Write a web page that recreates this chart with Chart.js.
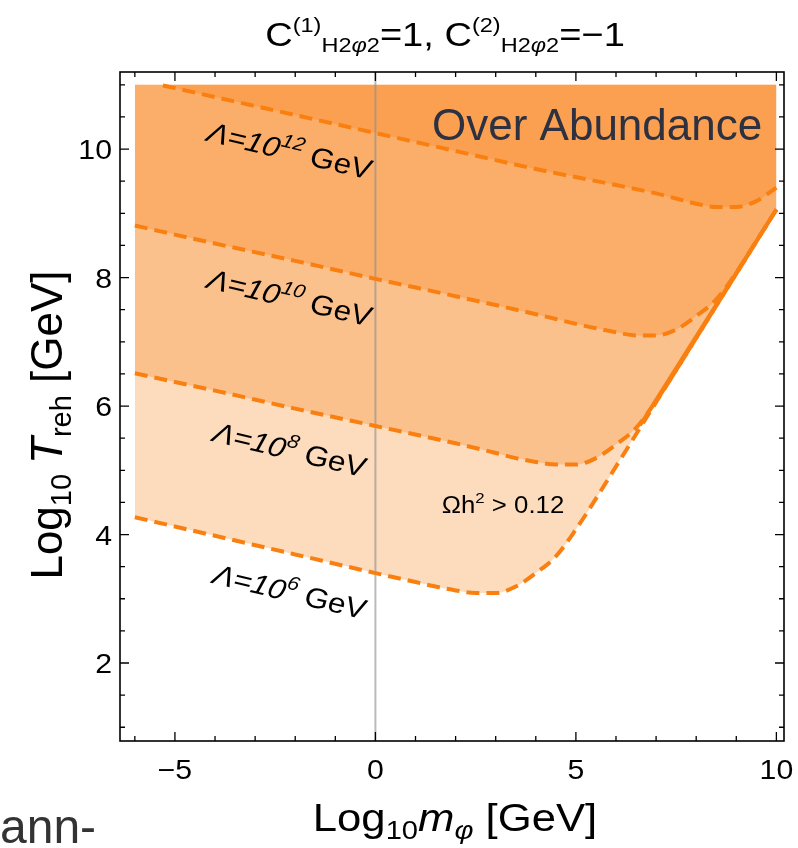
<!DOCTYPE html>
<html>
<head>
<meta charset="utf-8">
<script src="https://cdn.jsdelivr.net/npm/chart.js@4.4.1/dist/chart.umd.min.js"></script>
<style>
  html, body { margin: 0; padding: 0; background: #fff; }
  #relicChart { display: block; }
</style>
</head>
<body>
<canvas id="relicChart" width="798" height="848"></canvas>
<script>
// Omega h^2 = 0.12 contours in the (Log10 m_phi, Log10 T_reh) plane, one per cutoff scale
const mass6 = [-6, -4, -2, 0, 1, 1.5, 2, 2.5, 3, 3.5, 4, 4.5, 5, 5.5, 6, 7, 8, 9, 10];
const treh6 = [4.27, 3.98, 3.69, 3.40, 3.26, 3.19, 3.13, 3.09, 3.09, 3.19, 3.40, 3.66, 4.08, 4.56, 5.06, 6.06, 7.06, 8.06, 9.06];

const mass8 = [-6, -4, -2, 0, 2, 3, 3.5, 4, 4.5, 5, 5.5, 6, 6.5, 7, 7.5, 8, 9, 10];
const treh8 = [6.51, 6.24, 5.96, 5.69, 5.42, 5.27, 5.19, 5.13, 5.09, 5.09, 5.19, 5.40, 5.66, 6.08, 6.56, 7.06, 8.06, 9.06];

const mass10 = [-6, -4, -2, 0, 2, 4, 5, 5.5, 6, 6.5, 7, 7.5, 8, 8.5, 9, 9.5, 10];
const treh10 = [8.81, 8.53, 8.26, 7.98, 7.71, 7.43, 7.28, 7.21, 7.15, 7.10, 7.10, 7.19, 7.40, 7.66, 8.08, 8.57, 9.06];

const mass12 = [-5.3, -4, -2, 0, 2, 4, 6, 7, 7.5, 8, 8.5, 9, 9.5, 10];
const treh12 = [10.99, 10.81, 10.53, 10.25, 9.97, 9.69, 9.44, 9.31, 9.23, 9.15, 9.10, 9.10, 9.19, 9.40];

// stretch where the lower contours run together along the high-mass edge
const sharedMass = [6.6, 10];
const sharedTreh = [5.70, 9.06];

// upper edge of the scanned region
const edgeMass = [-6, 10];
const edgeTreh = [11, 11];

const cutoffExponents = ["6", "8", "10", "12"];

const xMajorTicks = [-5, 0, 5, 10];
const xMinorTicks = [-6, -4, -3, -2, -1, 1, 2, 3, 4, 6, 7, 8, 9];
const yMajorTicks = [2, 4, 6, 8, 10];
const yMinorTicks = [1, 1.5, 2.5, 3, 3.5, 4.5, 5, 5.5, 6.5, 7, 7.5, 8.5, 9, 9.5, 10.5, 11];

const FONT = '"Liberation Sans", Arial, sans-serif';
const STRETCH = 1.12;
const ORANGE = "#f98010";
const BAND = "rgba(248, 122, 10, 0.27)";

function toPoints(xs, ys) {
    return xs.map((x, i) => ({ x: x, y: ys[i] }));
}

function fmt(v) {
    return v < 0 ? "\u2212" + Math.abs(v) : String(v);
}

// draws a row of text runs (for sub/superscripts), optionally stretched and rotated
function drawRuns(ctx, runs, x, y, opt) {
    opt = opt || {};
    const sx = opt.sx || 1;
    const align = opt.align || "left";
    let total = 0;
    runs.forEach(r => {
        ctx.font = (r.italic ? "italic " : "") + r.size + "px " + FONT;
        r.w = ctx.measureText(r.text).width;
        total += r.w;
    });
    ctx.save();
    ctx.translate(x, y);
    ctx.scale(sx, 1);
    ctx.rotate(opt.angle || 0);
    ctx.textAlign = "left";
    ctx.textBaseline = "alphabetic";
    ctx.fillStyle = opt.color || "#000";
    let cx = align === "center" ? -total / 2 : align === "right" ? -total : 0;
    runs.forEach(r => {
        ctx.font = (r.italic ? "italic " : "") + r.size + "px " + FONT;
        ctx.fillText(r.text, cx, r.dy || 0);
        cx += r.w;
    });
    ctx.restore();
}

const zeroLine = {
    id: "zeroLine",
    beforeDatasetsDraw(chart) {
        const { ctx, chartArea, scales } = chart;
        const px = scales.x.getPixelForValue(0);
        ctx.save();
        ctx.strokeStyle = "rgba(140, 140, 140, 0.6)";
        ctx.lineWidth = 2;
        ctx.beginPath();
        ctx.moveTo(px, chartArea.top);
        ctx.lineTo(px, chartArea.bottom);
        ctx.stroke();
        ctx.restore();
    }
};

const frameAndText = {
    id: "frameAndText",
    afterDraw(chart) {
        const { ctx, chartArea, scales } = chart;
        const { left, right, top, bottom } = chartArea;
        const xs = scales.x, ys = scales.y;

        ctx.save();
        ctx.strokeStyle = "#000";
        ctx.lineWidth = 1.6;
        ctx.strokeRect(left, top, right - left, bottom - top);

        ctx.lineWidth = 1.3;
        ctx.beginPath();
        const xTick = (v, len) => {
            const p = xs.getPixelForValue(v);
            ctx.moveTo(p, bottom); ctx.lineTo(p, bottom - len);
            ctx.moveTo(p, top); ctx.lineTo(p, top + len);
        };
        const yTick = (v, len) => {
            const p = ys.getPixelForValue(v);
            ctx.moveTo(left, p); ctx.lineTo(left + len, p);
            ctx.moveTo(right, p); ctx.lineTo(right - len, p);
        };
        xMajorTicks.forEach(v => xTick(v, 9));
        xMinorTicks.forEach(v => xTick(v, 5));
        yMajorTicks.forEach(v => yTick(v, 9));
        yMinorTicks.forEach(v => yTick(v, 5));
        ctx.stroke();
        ctx.restore();

        // tick labels
        xs.ticks.forEach(t => {
            drawRuns(ctx, [{ text: fmt(t.value), size: 27 }],
                xs.getPixelForValue(t.value), bottom + 38, { sx: STRETCH, align: "center" });
        });
        ys.ticks.forEach(t => {
            drawRuns(ctx, [{ text: fmt(t.value), size: 27 }],
                left - 8, ys.getPixelForValue(t.value) + 10, { sx: STRETCH, align: "right" });
        });

        // title
        drawRuns(ctx, [
            { text: "C", size: 34 },
            { text: "(1)", size: 21, dy: -14 },
            { text: "H2", size: 21, dy: 6 },
            { text: "\u03c6", size: 21, dy: 6, italic: true },
            { text: "2", size: 21, dy: 6 },
            { text: "=1, ", size: 34 },
            { text: "C", size: 34 },
            { text: "(2)", size: 21, dy: -14 },
            { text: "H2", size: 21, dy: 6 },
            { text: "\u03c6", size: 21, dy: 6, italic: true },
            { text: "2", size: 21, dy: 6 },
            { text: "=\u22121", size: 34 }
        ], 445, 46, { sx: STRETCH, align: "center" });

        // axis titles
        drawRuns(ctx, [
            { text: "Log", size: 39 },
            { text: "10", size: 26, dy: 8 },
            { text: "m", size: 39, italic: true },
            { text: "\u03c6", size: 26, dy: 8, italic: true },
            { text: " [GeV]", size: 39 }
        ], 455, 831, { sx: STRETCH, align: "center" });

        drawRuns(ctx, [
            { text: "Log", size: 44 },
            { text: "10", size: 29, dy: 9 },
            { text: " ", size: 36 },
            { text: "T", size: 44, italic: true },
            { text: "reh", size: 29, dy: 9 },
            { text: " [GeV]", size: 44 }
        ], 62, 425, { sx: 1, align: "center", angle: -Math.PI / 2 });

        // cutoff labels along the contours
        const tilt = Math.atan(Math.tan(13.5 * Math.PI / 180) * STRETCH);
        const labelY = [592, 450, 298, 151];
        cutoffExponents.forEach((e, i) => {
            drawRuns(ctx, [
                { text: "\u039b=10", size: 28, italic: true },
                { text: e, size: 19, dy: -12, italic: true },
                { text: " GeV", size: 28 }
            ], 287, labelY[i] + 9, { sx: STRETCH, align: "center", angle: tilt });
        });

        drawRuns(ctx, [
            { text: "\u03a9h", size: 23 },
            { text: "2", size: 15, dy: -10 },
            { text: " > 0.12", size: 23 }
        ], 503, 513, { sx: STRETCH, align: "center" });

        drawRuns(ctx, [{ text: "Over Abundance", size: 44 }], 432, 140, { color: "#2e3140" });

        drawRuns(ctx, [{ text: "ann-", size: 48 }], 0, 843, { color: "#333333" });
    }
};

function contour(xs, ys) {
    return {
        data: toPoints(xs, ys),
        borderColor: ORANGE,
        borderWidth: 4,
        borderDash: [13, 7],
        backgroundColor: BAND,
        fill: 0,
        cubicInterpolationMode: "monotone",
        pointRadius: 0
    };
}

const ctx = document.getElementById("relicChart").getContext("2d");

new Chart(ctx, {
    type: "line",
    data: {
        datasets: [
            { data: toPoints(edgeMass, edgeTreh), borderWidth: 0, pointRadius: 0, fill: false },
            contour(mass6, treh6),
            contour(mass8, treh8),
            contour(mass10, treh10),
            contour(mass12, treh12),
            { data: toPoints(sharedMass, sharedTreh), borderColor: ORANGE, borderWidth: 3.8, pointRadius: 0, fill: false }
        ]
    },
    options: {
        responsive: false,
        animation: false,
        devicePixelRatio: 1,
        layout: { padding: { top: 72, right: 14, bottom: 0, left: 0 } },
        plugins: {
            legend: { display: false },
            tooltip: { enabled: false },
            filler: { drawTime: "beforeDatasetsDraw" }
        },
        scales: {
            x: {
                type: "linear",
                min: -6.37,
                max: 10.19,
                grid: { display: false },
                border: { display: false },
                ticks: { display: false },
                afterBuildTicks: s => { s.ticks = xMajorTicks.map(v => ({ value: v })); },
                afterFit: s => { s.height = 107; }
            },
            y: {
                type: "linear",
                min: 0.786,
                max: 11.2,
                grid: { display: false },
                border: { display: false },
                ticks: { display: false },
                afterBuildTicks: s => { s.ticks = yMajorTicks.map(v => ({ value: v })); },
                afterFit: s => { s.width = 120; }
            }
        }
    },
    plugins: [zeroLine, frameAndText]
});
</script>
</body>
</html>
